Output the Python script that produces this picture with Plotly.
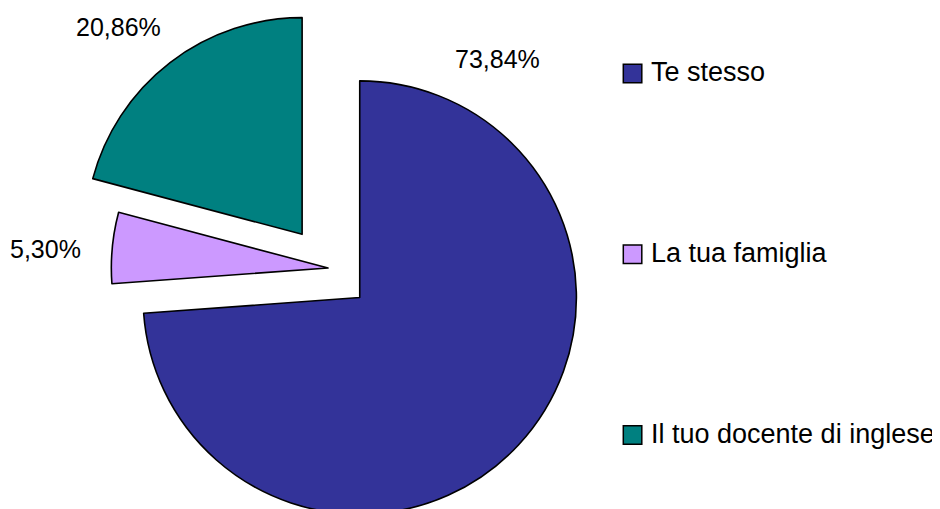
import plotly.graph_objects as go

# ---- data ----
labels = ["Te stesso", "La tua famiglia", "Il tuo docente di inglese"]
values = [73.84, 5.30, 20.86]
colors = ["#333399", "#CC99FF", "#008080"]
pulls = [0.20, 0.0, 0.196]

# figure is drawn 8px in from the page corner (body margin)
W, H = 932, 520
FONT = "Liberation Sans, Arial, sans-serif"

# pie centre / half-box in figure pixels
pcx, half = 320, 260

fig = go.Figure()
fig.add_trace(go.Pie(
    labels=labels, values=values, sort=False, direction="clockwise", rotation=0,
    pull=pulls, marker=dict(colors=colors, line=dict(color="black", width=1.6)),
    textinfo="none", hoverinfo="label+percent", showlegend=False,
    domain=dict(x=[(pcx - half) / W, (pcx + half) / W], y=[0, 1]),
))

def fmt(v):
    return f"{v:.2f}%".replace(".", ",")

def px(x):
    return x / W

def py(y):
    return 1 - y / H

# percentage labels (figure pixel centres)
label_pos = [(489.5, 51.5), (37.5, 241), (110.5, 19)]
for v, (lx, ly) in zip(values, label_pos):
    fig.add_annotation(x=px(lx), y=py(ly), xref="paper", yref="paper",
                       text=fmt(v), showarrow=False, xanchor="center", yanchor="middle",
                       font=dict(family=FONT, size=25, color="black"))

# manual legend
leg_x0, leg_cy0, leg_step, sq = 615.3, 65.5, 180.75, 18.5
for i, (lab, col) in enumerate(zip(labels, colors)):
    cy = leg_cy0 + i * leg_step
    fig.add_shape(type="rect", xref="paper", yref="paper",
                  x0=px(leg_x0), x1=px(leg_x0 + sq),
                  y0=py(cy + sq / 2), y1=py(cy - sq / 2),
                  fillcolor=col, line=dict(color="black", width=1.5))
    fig.add_annotation(x=px(641), y=py(cy - 1.5),
                       xref="paper", yref="paper", text=lab, showarrow=False,
                       xanchor="left", yanchor="middle",
                       font=dict(family=FONT, size=27, color="black"))

fig.update_layout(width=W, height=H, margin=dict(l=0, r=0, t=0, b=0),
                  paper_bgcolor="white", plot_bgcolor="white", showlegend=False)
fig.write_html("out.html")
